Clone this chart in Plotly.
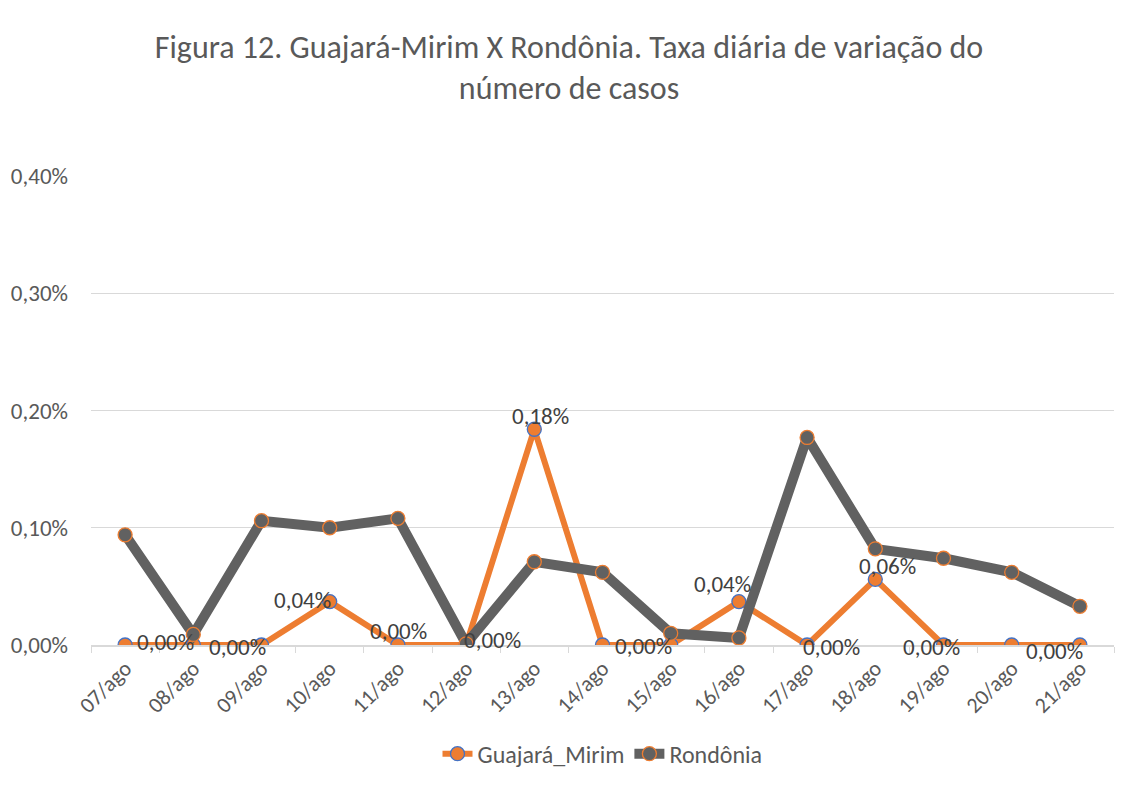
import plotly.graph_objects as go

dates = ["07/ago", "08/ago", "09/ago", "10/ago", "11/ago", "12/ago", "13/ago", "14/ago",
         "15/ago", "16/ago", "17/ago", "18/ago", "19/ago", "20/ago", "21/ago"]
# values in percent
guajara = [0.0, 0.0, 0.0, 0.037, 0.0, 0.0, 0.184, 0.0, 0.0, 0.037, 0.0, 0.056, 0.0, 0.0, 0.0]
rondonia = [0.094, 0.009, 0.106, 0.100, 0.108, 0.001, 0.071, 0.062, 0.010, 0.006, 0.177,
            0.082, 0.074, 0.062, 0.033]

# which Guajará points show a data label, and the label offset (px)
label_offsets = {0: (40, 3), 2: (-24, -2), 3: (-27, 2), 4: (1, 14), 5: (26, 5),
                 6: (6, 13), 7: (41, -1), 9: (-16, 18), 10: (24, -2), 11: (12, 13),
                 12: (-12, -2), 14: (-25, -6)}

FONT = "Calibri, Carlito, Lato, sans-serif"
TXT = "#595959"

fig = go.Figure()
fig.add_trace(go.Scatter(
    x=dates, y=guajara, mode="lines+markers", name="Guajará_Mirim",
    line=dict(color="#ED7D31", width=6),
    marker=dict(size=14, color="#ED7D31", line=dict(color="#4472C4", width=1.3)),
))
fig.add_trace(go.Scatter(
    x=dates, y=rondonia, mode="lines+markers", name="Rondônia",
    line=dict(color="#616161", width=10),
    marker=dict(size=14, color="#616161", line=dict(color="#ED7D31", width=1.3)),
))

for i, (dx, dy) in label_offsets.items():
    v = guajara[i]
    fig.add_annotation(x=dates[i], y=v, text=f"{v:.2f}%".replace(".", ","),
                       showarrow=False, xshift=dx, yshift=dy,
                       font=dict(family=FONT, size=23, color="#404040"))

fig.update_layout(
    width=1122, height=779,
    paper_bgcolor="white", plot_bgcolor="white",
    margin=dict(l=83, r=16, t=168, b=141),
    separators=",.",
    title=dict(text="Figura 12. Guajará-Mirim X Rondônia. Taxa diária de variação do<br>número de casos",
               x=0.5, xanchor="center", y=0.936, yanchor="middle",
               font=dict(family=FONT, size=32, color=TXT)),
    font=dict(family=FONT, color=TXT),
    showlegend=True,
    legend=dict(orientation="h", x=0.5, xanchor="center", y=-0.23, yanchor="middle",
                font=dict(family=FONT, size=24, color=TXT)),
    xaxis=dict(type="category", showgrid=False, showline=True, linecolor="#d9d9d9",
               linewidth=1.5, ticks="outside", tickson="boundaries", ticklen=6,
               tickcolor="#d9d9d9", tickangle=-45, automargin=False,
               tickfont=dict(family=FONT, size=22, color=TXT), range=[-0.5, 14.5]),
    yaxis=dict(range=[0, 0.4], dtick=0.1, tickformat=".2f", ticksuffix="%",
               showgrid=True, gridcolor="#d9d9d9", gridwidth=1.3, zeroline=False,
               showline=False, ticks="", ticklabelstandoff=22, automargin=False,
               tickfont=dict(family=FONT, size=23, color=TXT)),
)

fig.write_html("out.html")
